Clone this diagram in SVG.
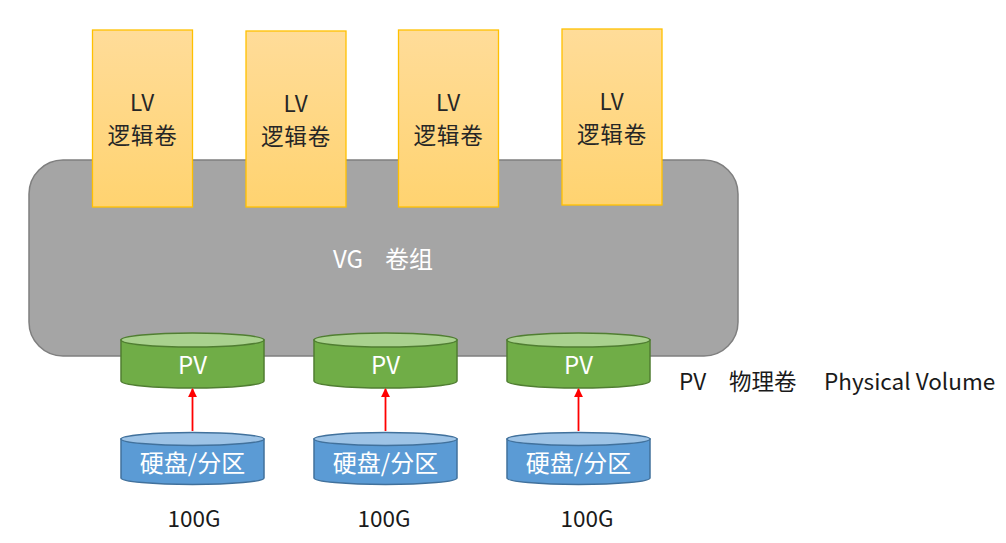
<svg xmlns="http://www.w3.org/2000/svg" width="1006" height="543" viewBox="0 0 1006 543">
<defs>
<linearGradient id="lvg" x1="0" y1="0" x2="0" y2="1">
<stop offset="0" stop-color="#ffdc99"/>
<stop offset="1" stop-color="#ffd370"/>
</linearGradient>
<marker id="arr" viewBox="0 0 10 10" refX="9" refY="5" markerWidth="5" markerHeight="5" orient="auto">
<path d="M0,0 L10,5 L0,10 z" fill="#ff0000"/>
</marker>
</defs>
<style>
text{font-family:"Microsoft YaHei","Noto Sans CJK SC","Noto Sans",sans-serif;text-anchor:middle}
.lv rect{fill:url(#lvg);stroke:#ffc000;stroke-width:1.3}
.lv text{font-size:22.5px;fill:#262626;letter-spacing:0.8px}
.pv .body{fill:#70ad47;stroke:#507e32;stroke-width:1.5}
.pv .top{fill:#a9d18e;stroke:#507e32;stroke-width:1.5}
.disk .body{fill:#5b9bd5;stroke:#41719c;stroke-width:1.5}
.disk .top{fill:#9dc3e6;stroke:#41719c;stroke-width:1.5}
.w{fill:#ffffff;font-size:24px}
.lab{fill:#1a1a1a;font-size:22.5px}
.conn line{stroke:#ff0000;stroke-width:1.8}
</style>
<g id="vg">
<rect x="29" y="160" width="709" height="196" rx="34" ry="34" fill="#a5a5a5" stroke="#7f7f7f" stroke-width="1.5"/>
<text class="w" y="268" style="text-anchor:start"><tspan x="333">VG</tspan><tspan x="385">卷组</tspan></text>
</g>
<g id="lv1" class="lv"><rect x="92.5" y="30" width="100" height="177"/><text x="142.5" y="111">LV</text><text x="142.5" y="144">逻辑卷</text></g>
<g id="lv2" class="lv"><rect x="246" y="31" width="100" height="176"/><text x="296" y="112">LV</text><text x="296" y="145">逻辑卷</text></g>
<g id="lv3" class="lv"><rect x="398.5" y="30" width="100" height="177"/><text x="448.5" y="111">LV</text><text x="448.5" y="144">逻辑卷</text></g>
<g id="lv4" class="lv"><rect x="562" y="29" width="100" height="176"/><text x="612" y="110">LV</text><text x="612" y="143">逻辑卷</text></g>

<g id="pv1" class="pv"><path class="body" d="M121,340 L121,381 A71.5,7 0 0 0 264,381 L264,340 Z"/><ellipse class="top" cx="192.5" cy="340" rx="71.5" ry="7"/><text class="w" x="192.5" y="374">PV</text></g>
<g id="pv2" class="pv"><path class="body" d="M314,340 L314,381 A71.5,7 0 0 0 457,381 L457,340 Z"/><ellipse class="top" cx="385.5" cy="340" rx="71.5" ry="7"/><text class="w" x="385.5" y="374">PV</text></g>
<g id="pv3" class="pv"><path class="body" d="M507,340 L507,381 A71.5,7 0 0 0 650,381 L650,340 Z"/><ellipse class="top" cx="578.5" cy="340" rx="71.5" ry="7"/><text class="w" x="578.5" y="374">PV</text></g>

<g id="disk1" class="disk"><path class="body" d="M121,439 L121,478 A71.5,6.5 0 0 0 264,478 L264,439 Z"/><ellipse class="top" cx="192.5" cy="439" rx="71.5" ry="6.5"/><text class="w" x="192.5" y="472">硬盘/分区</text></g>
<g id="disk2" class="disk"><path class="body" d="M314,439 L314,478 A71.5,6.5 0 0 0 457,478 L457,439 Z"/><ellipse class="top" cx="385.5" cy="439" rx="71.5" ry="6.5"/><text class="w" x="385.5" y="472">硬盘/分区</text></g>
<g id="disk3" class="disk"><path class="body" d="M507,439 L507,478 A71.5,6.5 0 0 0 650,478 L650,439 Z"/><ellipse class="top" cx="578.5" cy="439" rx="71.5" ry="6.5"/><text class="w" x="578.5" y="472">硬盘/分区</text></g>

<g id="connectors" class="conn">
<line x1="192.5" y1="431" x2="192.5" y2="389" marker-end="url(#arr)"/>
<line x1="385.5" y1="431" x2="385.5" y2="389" marker-end="url(#arr)"/>
<line x1="578.5" y1="431" x2="578.5" y2="389" marker-end="url(#arr)"/>
</g>

<g id="labels">
<text class="lab" x="194" y="527">100G</text>
<text class="lab" x="384" y="527">100G</text>
<text class="lab" x="587" y="527">100G</text>
<text class="lab" y="390" style="text-anchor:start"><tspan x="679">PV</tspan><tspan x="729">物理卷</tspan><tspan x="824">Physical Volume</tspan></text>
</g>
</svg>
